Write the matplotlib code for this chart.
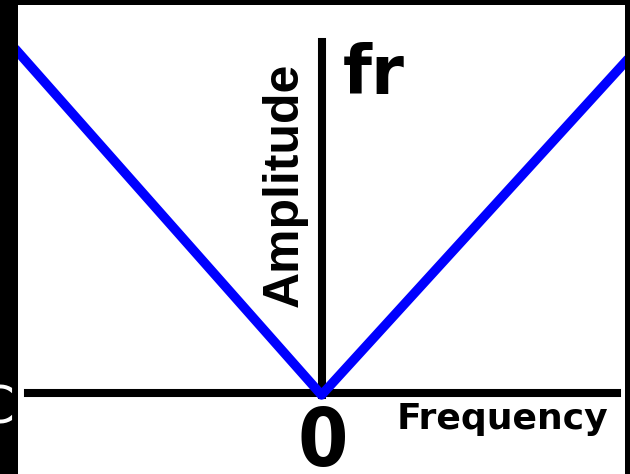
import matplotlib
matplotlib.use("Agg")
import matplotlib.pyplot as plt

# ---- data ----
frequency = [-1.0, 0.0, 1.0]
amplitude = [1.0, 0.0, 0.97]
x_label = "Frequency"
y_label = "Amplitude"
corner_label = "fr"
origin_label = "0"

W, H = 630, 474
fig = plt.figure(figsize=(W / 100, H / 100), dpi=100, facecolor="black")

# white plot panel
L, R, T, B = 18, 625, 5, 474
ax = fig.add_axes([L / W, (H - B) / H, (R - L) / W, (B - T) / H])
ax.set_facecolor("white")
for s in ax.spines.values():
    s.set_visible(False)
ax.set_xticks([])
ax.set_yticks([])

# data scaling
y0_px, y1_px = 395, 52
scale = y0_px - y1_px
ax.set_xlim(-1, 1)
ax.set_ylim(-(B - y0_px) / scale, 1 + (y1_px - T) / scale)


def axf(px, py):
    return (px - L) / (R - L), (B - py) / (B - T)


# axes lines
ax.axhline(0.005, xmin=axf(28, 0)[0], xmax=axf(617, 0)[0], color="black", lw=5.8, zorder=2)
ax.axvline(0.0, ymin=axf(0, 395)[1], ymax=axf(0, 42)[1], color="black", lw=5.8, zorder=2)

# V-shaped curve
ax.plot(frequency, amplitude, color="#0000ff", lw=6.8, solid_joinstyle="round", zorder=3)

# labels
ax.text(*axf(298, 185), y_label, transform=ax.transAxes, rotation=90, rotation_mode="anchor",
        ha="center", va="baseline", fontsize=36, fontweight="bold", family="Liberation Sans")
ax.text(*axf(502, 429), x_label, transform=ax.transAxes, ha="center", va="baseline",
        fontsize=26, fontweight="bold", family="DejaVu Sans")
ax.text(*axf(343, 94), corner_label, transform=ax.transAxes, ha="left", va="baseline",
        fontsize=48, fontweight="bold", family="DejaVu Sans")
ax.text(*axf(323, 466), origin_label, transform=ax.transAxes, ha="center", va="baseline",
        fontsize=58, fontweight="bold", family=["Liberation Sans Narrow", "DejaVu Sans"],
        fontstretch="condensed")

# cut-off glyph in the left black border
fig.text(-22 / W, (H - 424) / H, "C", color="white", fontsize=37, ha="left", va="baseline",
         zorder=-1)

fig.savefig("out.png", dpi=100, facecolor="black")
